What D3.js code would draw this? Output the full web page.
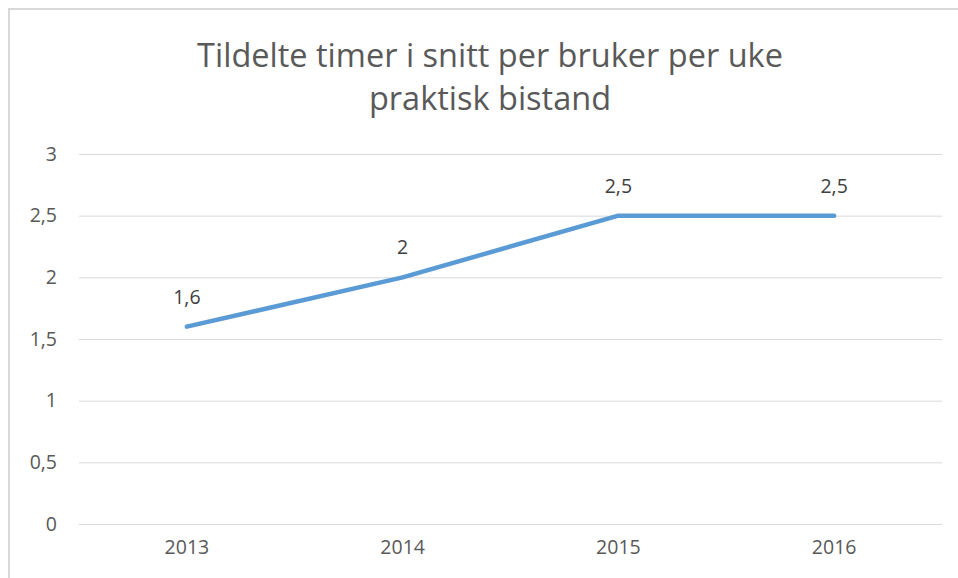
<!DOCTYPE html>
<html>
<head>
<meta charset="utf-8">
<script src="https://cdn.jsdelivr.net/npm/d3@7"></script>
<style>
  body { margin: 0; background: white; }
  #chart { width: 958px; height: 578px; }
</style>
</head>
<body>
<div id="chart"></div>
<script>
// data
const years = ["2013", "2014", "2015", "2016"];
const hours = [1.6, 2, 2.5, 2.5];
const yTicks = [0, 0.5, 1, 1.5, 2, 2.5, 3];
const titleLines = ["Tildelte timer i snitt per bruker per uke", "praktisk bistand"];

const W = 958, H = 578;
const margin = { top: 154, right: 16, bottom: 54, left: 79 };
const width = W - margin.left - margin.right;
const height = H - margin.top - margin.bottom;
const font = "'Open Sans', sans-serif";
const textColor = '#595959';
const gridColor = '#d9d9d9';
const fmt = d => String(d).replace('.', ',');

const svg = d3.select("#chart").append("svg")
    .attr("width", W)
    .attr("height", H)
    .style("font-family", font);

// chart area border (only left and top are inside the frame)
svg.append("rect")
    .attr("x", 9).attr("y", 9)
    .attr("width", W + 20).attr("height", H + 20)
    .attr("fill", "none")
    .attr("stroke", "#d9d9d9")
    .attr("stroke-width", 2);

svg.append("text")
    .attr("text-anchor", "middle")
    .style("fill", textColor).style("font-size", "32.5px")
    .selectAll("tspan").data(titleLines).enter().append("tspan")
    .attr("x", 490)
    .attr("y", (d, i) => 67 + i * 43)
    .text(d => d);

const g = svg.append("g").attr("transform", `translate(${margin.left}, ${margin.top})`);

const x = d3.scaleBand().domain(years).range([0, width]);
const y = d3.scaleLinear().domain([0, 3]).range([height, 0]);

const yAxis = g.append("g")
    .call(d3.axisLeft(y).tickValues(yTicks).tickSize(-width).tickPadding(22).tickFormat(fmt));
yAxis.select(".domain").remove();
yAxis.selectAll(".tick line").style("stroke", gridColor).style("stroke-width", 1);
yAxis.selectAll("text").style("fill", textColor).style("font-size", "19.5px")
    .style("font-family", font);

const xAxis = g.append("g").attr("transform", `translate(0, ${height})`)
    .call(d3.axisBottom(x).tickSize(0).tickPadding(16));
xAxis.select(".domain").remove();
xAxis.selectAll("text").style("fill", textColor).style("font-size", "19.5px")
    .style("font-family", font);

const data = years.map((yr, i) => ({ year: yr, value: hours[i] }));
const cx = d => x(d.year) + x.bandwidth() / 2;

g.append("path")
    .datum(data)
    .attr("fill", "none")
    .attr("stroke", "#5b9bd5")
    .attr("stroke-width", 4.5)
    .attr("stroke-linecap", "round")
    .attr("stroke-linejoin", "round")
    .attr("d", d3.line().x(cx).y(d => y(d.value)));

g.selectAll(".label").data(data).enter().append("text")
    .attr("class", "label")
    .attr("text-anchor", "middle")
    .attr("x", cx)
    .attr("y", d => y(d.value) - 23)
    .style("fill", "#404040").style("font-size", "19.5px")
    .text(d => fmt(d.value));
</script>
</body>
</html>
